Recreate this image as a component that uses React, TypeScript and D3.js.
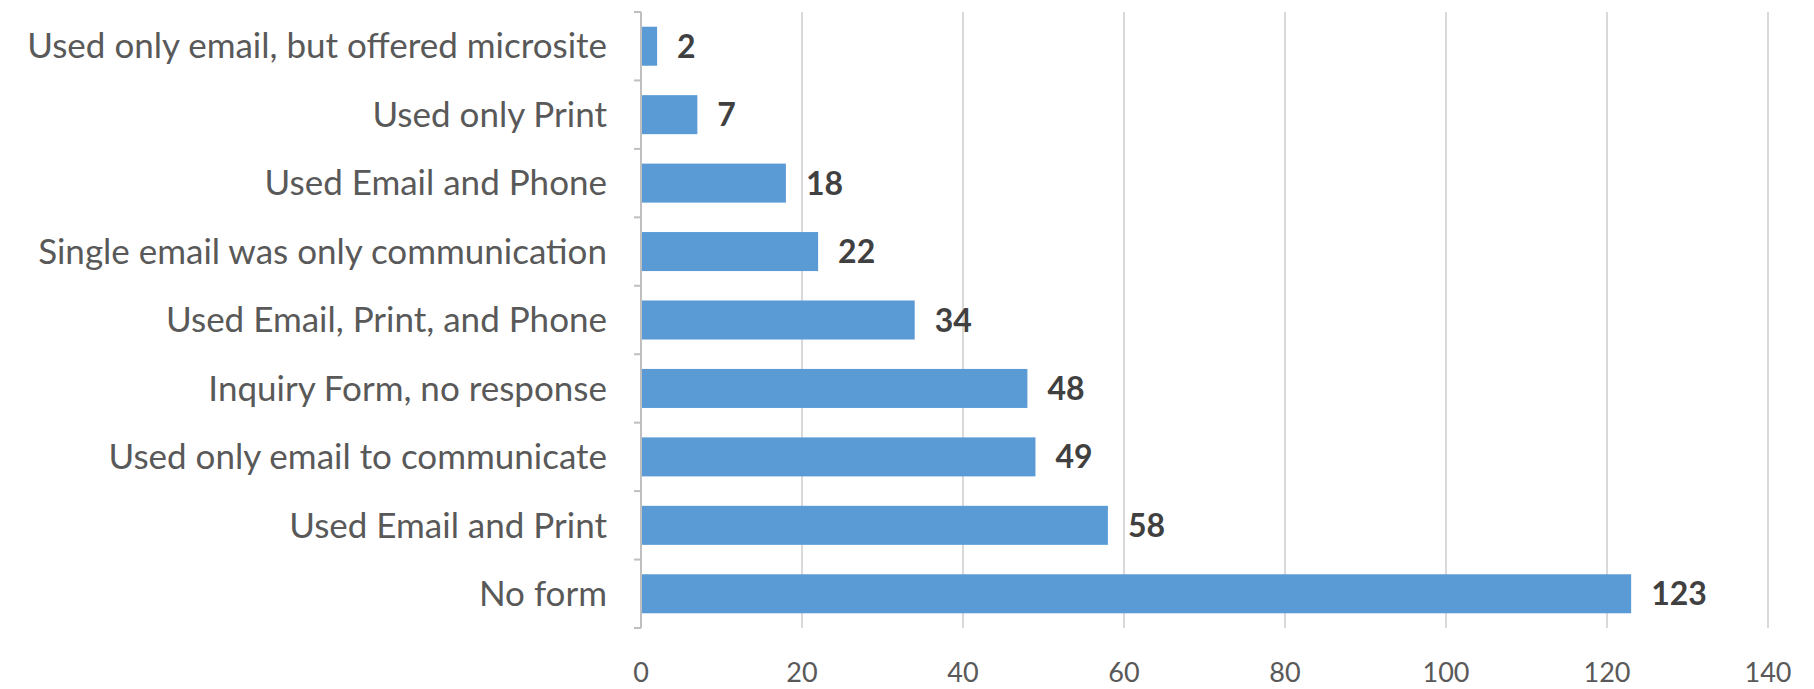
import React from "react";
import * as d3 from "d3";

const categories = [
  "Used only email, but offered microsite",
  "Used only Print",
  "Used Email and Phone",
  "Single email was only communication",
  "Used Email, Print, and Phone",
  "Inquiry Form, no response",
  "Used only email to communicate",
  "Used Email and Print",
  "No form",
];
const values = [2, 7, 18, 22, 34, 48, 49, 58, 123];
const xTicks = [0, 20, 40, 60, 80, 100, 120, 140];

const W = 1814;
const H = 689;
const FONT = "Lato, 'Open Sans', sans-serif";

export default function App() {
  const x = d3.scaleLinear().domain([0, 140]).range([641, 1768]);
  const y = d3
    .scaleBand<string>()
    .domain(categories)
    .range([12, 628])
    .paddingInner(0.43)
    .paddingOuter(0.215);
  const step = y.step();
  const top = y.range()[0];
  const bottom = y.range()[1];
  const boundaries = d3.range(categories.length + 1).map((i) => top + i * step);

  return (
    <svg
      width={W}
      height={H}
      style={{ position: "absolute", left: 0, top: 0, background: "#fff" }}
    >
      {xTicks.slice(1).map((t) => (
        <line
          key={"g" + t}
          x1={x(t)}
          x2={x(t)}
          y1={top}
          y2={bottom}
          stroke="#D9D9D9"
          strokeWidth={2}
        />
      ))}
      {categories.map((c, i) => (
        <rect
          key={c}
          x={x(0)}
          y={y(c)}
          width={x(values[i]) - x(0)}
          height={y.bandwidth()}
          fill="#5B9BD5"
        />
      ))}
      <line x1={x(0)} x2={x(0)} y1={top} y2={bottom} stroke="#BFBFBF" strokeWidth={2} />
      {boundaries.map((b, i) => (
        <line key={"t" + i} x1={x(0) - 7} x2={x(0)} y1={b} y2={b} stroke="#BFBFBF" strokeWidth={2} />
      ))}
      {categories.map((c) => (
        <text
          key={"l" + c}
          x={607}
          y={(y(c) as number) + y.bandwidth() / 2}
          dy="0.35em"
          textAnchor="end"
          fontFamily={FONT}
          fontSize={35}
          fill="#595959"
        >
          {c}
        </text>
      ))}
      {categories.map((c, i) => (
        <text
          key={"v" + c}
          x={x(values[i]) + 20}
          y={(y(c) as number) + y.bandwidth() / 2}
          dy="0.36em"
          fontFamily={FONT}
          fontWeight="bold"
          fontSize={32}
          fill="#404040"
        >
          {values[i]}
        </text>
      ))}
      {xTicks.map((t) => (
        <text
          key={"x" + t}
          x={x(t)}
          y={682}
          textAnchor="middle"
          fontFamily={FONT}
          fontSize={27}
          fill="#595959"
        >
          {t}
        </text>
      ))}
    </svg>
  );
}
